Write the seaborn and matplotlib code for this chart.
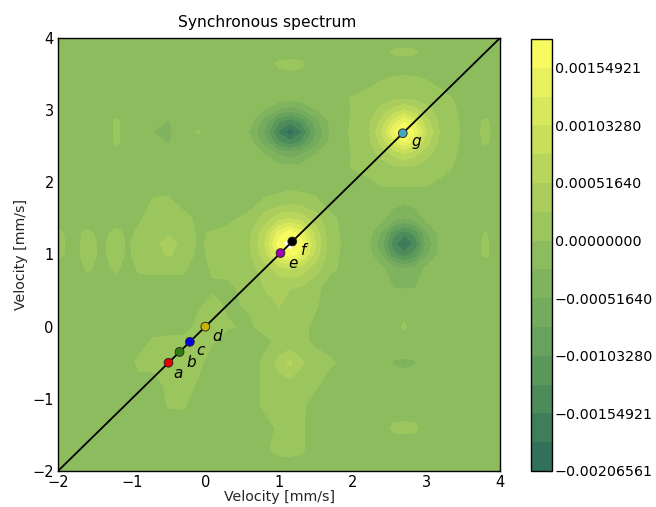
import numpy as np
import seaborn as sns
import matplotlib
matplotlib.use('Agg')
import matplotlib.pyplot as plt

# velocity positions of the grid (mm/s)
vel_x = [-2.0, -1.8, -1.6, -1.4, -1.2, -1.05, -0.9,
         -0.7, -0.5, -0.3, -0.1, 0.1, 0.3,
         0.6, 0.8, 1.0, 1.15, 1.3, 1.5, 1.7,
         2.0, 2.2, 2.4, 2.55, 2.7, 2.85, 3.0, 3.2,
         3.6, 3.8, 4.0]
vel_y = [4.0, 3.8, 3.65, 3.35, 3.15, 3.0, 2.85, 2.7, 2.55, 2.4, 2.2, 2.0, 1.75, 1.5,
         1.3, 1.15, 1.0, 0.8, 0.55, 0.3, 0.0, -0.2, -0.5, -0.8, -1.1, -1.4, -1.7, -2.0]

# spectrum values, in units of 1e-4, top row first
spectrum = [
    [-1, -1, -1, -1, -1, -1, -1,  -1, -1, -1, -1, -1, -1,  -1, -1, -1, -1, -1, -1, -1,  -1, -1, -1, -1, -1, -1, -1, -1,  -1, -1, -1],
    [-1, -1, -1, -1, -1, -1, -1,  -1, -1, -1, -1, -1, -1,  -1, -1, -1, -1, -1, -1, -1,  -1, -1, -1, .3, .4, .3, -1, -1,  -1, -1, -1],
    [-1, -1, -1, -1, -1, -1, -1,  -1, -1, -1, -1, -1, -1,  -1, -1, .3, .5, .3, -1, -1,  -1, -1, -1, -1, -1, -1, -1, -1,  -1, -1, -1],
    [-1, -1, -1, -1, -1, -1, -1,  -1, -1, -1, -1, -1, -1,  -1, -1, -1, -1, -1, -1, -1,  -.8, -.3, .3, .6, .8, .6, .3, -.3,  -1, -1, -1],
    [-1, -1, -1, -1, -1, -1, -1,  -1, -1, -1, -1, -1, -1,  -1, -1.2, -1.8, -2, -1.8, -1.2, -1,  .2, .7, 1.3, 2.3, 2.6, 2.3, 1.3, .7,  -1, -1, -1],
    [-1, -1, -1, -1, -1, -1, -1,  -1, -1, -1, -1, -1, -1,  -1.4, -2.7, -5.8, -6.8, -5.8, -2.7, -1.4,  .1, 1.1, 3.5, 6, 8, 6, 3.5, 1.1,  -1, -1, -1],
    [-1, -1, -1, -1, .3, -1, -1,  -1, -2.8, -1, -1, -1, -1,  -1.5, -6.3, -12.5, -14.5, -12.5, -6.3, -1.9,  .3, 1.5, 6, 11, 15, 11, 6, 1.5,  -1, .3, -1],
    [-1, -1, -1, -1, .3, -1, -1,  -2.7, -3, -1.2, .2, -1, -1,  -2.8, -8, -16, -20, -16, -8, -2.3,  .5, 1.8, 8, 15, 19, 15, 8, 1.8,  -1, .5, -1],
    [-1, -1, -1, -1, .3, -1, -1,  -1, -2.8, -1, -1, -1, -1,  -1.5, -6.3, -12.5, -14.5, -12.5, -6.3, -1.9,  .3, 1.5, 6, 11, 15, 11, 6, 1.5,  -1, .3, -1],
    [-1, -1, -1, -1, -1, -1, -1,  -1, -1, -1, -1, -1, -1,  -1.4, -2.7, -5.8, -6.8, -5.8, -2.7, -1.4,  .1, 1.1, 3.5, 6, 8, 6, 3.5, 1.1,  -1, -1, -1],
    [-1, -1, -1, -1, -1, -1, -1,  -1, -1, -1, -1, -1, -1,  -1, -1, -1.4, -1.6, -1.4, -1, -1,  .1, .6, 1.2, 1.8, 2, 1.8, 1.2, .6,  -1, -1, -1],
    [-1, -1, -1, -1, -1, -1, -1,  -1, -1, -1, -1, -1, -1,  -1, -1, -1, -1, -1, -1, -1,  -.9, -.4, .3, .5, .6, .5, .3, -.4,  -1, -1, -1],
    [-1, -1, -1, -1, -1, -1, -1,  .2, .3, -1, -1, -1, -1,  -1, .2, .6, 1.2, .8, .3, -1,  -1, -1, -1, -1.5, -2, -1.5, -1, -1,  -1, -1, -1],
    [-1, -1, -1, -1, -1, -1, -.3,  .8, 1, .8, -.5, -1, -.5,  .6, 3.7, 6.5, 7.5, 6.5, 3.7, .4,  -1, -1, -2.1, -4, -5.2, -4, -2.1, -1,  -1, -1, -1],
    [.3, -.5, .3, -.5, .5, -.5, .4,  1.2, 2, 1.2, -.3, .2, .5,  2, 6.5, 14, 17, 14, 6.5, .6,  -1, -1.4, -5.8, -12, -14.5, -12, -5.8, -1.4,  -1, .1, -1],
    [.4, -.5, .5, -.3, .8, -.3, .9,  1.5, 4, 1.5, -.3, .4, .5,  2.2, 7.5, 17, 20, 17, 7.5, .8,  -1, -1.5, -7.3, -14.5, -19, -14.5, -7.3, -1.5,  -1, .3, -1],
    [.4, -.5, .5, -.3, .7, -.4, .8,  1.3, 3, 1.2, -.5, .4, .5,  2, 6.5, 14, 17, 14, 6.5, .6,  -1, -1.4, -5.8, -12, -14.5, -12, -5.8, -1.4,  -1, .3, -1],
    [-1, -1, .2, -.5, .3, -1, .3,  .5, .5, .4, -1, .3, .4,  1.5, 3.7, 6.5, 7.5, 6.5, 3.7, .4,  -1, -1, -2.1, -4, -5.2, -4, -2.1, -1,  -1, -1, -1],
    [-1, -1, -1, -1, -1, -1, -1,  -1, -1, -1, -1, -.3, -.3,  .5, 2.7, 2.8, 2.8, 2.5, .5, -1,  -1, -1, -1, -2.7, -2.8, -2.7, -1, -1,  -1, -1, -1],
    [-1, -1, -1, -1, -1, -1, -1,  -1, -1, -1, -.3, .5, -.3,  .2, .5, 2.8, 1, .8, .2, -1,  -1, -1, -1, -1, -1, -1, -1, -1,  -1, -1, -1],
    [-1, -1, -1, -1, -1, -1, -1,  -1, -1, -1, .5, .8, .2,  -.3, .6, 1, .8, .5, -.5, -1,  -1, -1, -1, -1, .3, -1, -1, -1,  -1, -1, -1],
    [-1, -1, -1, -1, -1, -1, -1,  .3, .6, .6, .5, .2, -1,  -1, -.5, .4, .5, .5, -.5, -1,  -1, -1, -1, -1, -1, -1, -1, -1,  -1, -1, -1],
    [-1, -1, -1, -1, -1, -1, .6,  .8, 1.2, 1, .5, -1, -1,  -1, .4, 3.5, 5.8, 3, 1, .3,  -1, -1, -1, -2.8, -3, -2.8, -1, -1,  -1, -1, -1],
    [-1, -1, -1, -1, -1, -1, -1,  -1, .6, .7, -.2, -1, -1,  -1, .3, 1.5, 1.5, 1, .3, -1,  -1, -1, -1, -1, -1.5, -1, -1, -1,  -1, -1, -1],
    [-1, -1, -1, -1, -1, -1, -1,  -1, .1, .2, -1, -1, -1,  -1, .4, .7, .7, .4, -1, -1,  -1, -1, -1, -1, -1, -1, -1, -1,  -1, -1, -1],
    [-1, -1, -1, -1, -1, -1, -1,  -1, -1, -1, -1, -1, -1,  -1, -1, .4, .5, .3, -1, -1,  -1, -1, -1, .3, .4, .3, -1, -1,  -1, -1, -1],
    [-1, -1, -1, -1, -1, -1, -1,  -1, -1, -1, -1, -1, -1,  -1, -.3, .5, .5, .3, -1, -1,  -1, -1, -1, -1, -1, -1, -1, -1,  -1, -1, -1],
    [-1, -1, -1, -1, -1, -1, -1,  -1, -1, -1, -1, -1, -1,  -1, -1, -1, -1, -1, -1, -1,  -1, -1, -1, -1, -1, -1, -1, -1,  -1, -1, -1],
]

diag_x = [-2, 4]
diag_y = [-2, 4]

point_names = ['a', 'b', 'c', 'd', 'e', 'f', 'g']
point_v = [-0.5, -0.35, -0.21, 0.0, 1.02, 1.18, 2.68]
point_colors = ['#e00000', '#2e7d0e', '#0000e0', '#c8b400', '#a000b0', '#000000', '#40a8b8']
label_x = [-0.37, -0.19, -0.06, 0.16, 1.19, 1.33, 2.86]
label_y = [-0.65, -0.49, -0.33, -0.14, 0.88, 1.06, 2.57]

cbar_ticks = [-0.00206561, -0.00154921, -0.00103280, -0.00051640, 0.0, 0.00051640, 0.00103280, 0.00154921]
cbar_labels = ['\u22120.00206561', '\u22120.00154921', '\u22120.00103280', '\u22120.00051640',
               '0.00000000', '0.00051640', '0.00103280', '0.00154921']

sns.set_style('white')
plt.rcParams['font.family'] = ['DejaVu Sans']

fig = plt.figure(figsize=(6.56, 5.07), dpi=100)
ax = fig.add_axes([58 / 656, 1 - 471 / 507, 442 / 656, 433 / 507])
cax = fig.add_axes([531 / 656, 1 - 471 / 507, 21 / 656, 432 / 507])

# colours: dark teal -> background green -> yellow
cmap = sns.blend_palette(['#2a6a58', '#5f9c5c', '#8cbc5e', '#c4dc5c', '#ffff60'], as_cmap=True)
levels = np.arange(16) * 0.00025820 - 0.00206561

z = np.array(spectrum) * 1e-4
cs = ax.contourf(vel_x, vel_y, z, levels=levels, cmap=cmap)

sns.lineplot(x=diag_x, y=diag_y, color='black', linewidth=1.3, ax=ax, legend=False)
sns.scatterplot(x=point_v, y=point_v, hue=point_names, palette=point_colors, s=40,
                edgecolor='#222222', linewidth=0.6, ax=ax, legend=False, zorder=5)

for name, lx, ly in zip(point_names, label_x, label_y):
    ax.text(lx, ly, name, fontsize=11, style='italic', ha='center', va='center', color='black')

ax.set_xlim(-2, 4)
ax.set_ylim(-2, 4)
ax.set_xticks(range(-2, 5))
ax.set_yticks(range(-2, 5))
ax.tick_params(direction='in', length=3.5, width=0.8, labelsize=10.5, pad=3, top=True, right=True, colors='black')
ax.set_xlabel('Velocity [mm/s]', fontsize=10.2, labelpad=0)
ax.set_ylabel('Velocity [mm/s]', fontsize=10.2, labelpad=3)
ax.set_title('Synchronous spectrum', fontsize=11.2, pad=8, x=0.473, color='black')
for s in ax.spines.values():
    s.set_visible(True)
    s.set_color('black')
    s.set_linewidth(1.0)

cb = fig.colorbar(cs, cax=cax)
cb.set_ticks(cbar_ticks)
cb.set_ticklabels(cbar_labels)
cb.ax.tick_params(direction='in', length=3.5, width=0.8, labelsize=10.3, pad=2, right=True, colors='black')
cb.outline.set_edgecolor('black')
cb.outline.set_linewidth(1.0)

fig.savefig('out.png', dpi=100)
